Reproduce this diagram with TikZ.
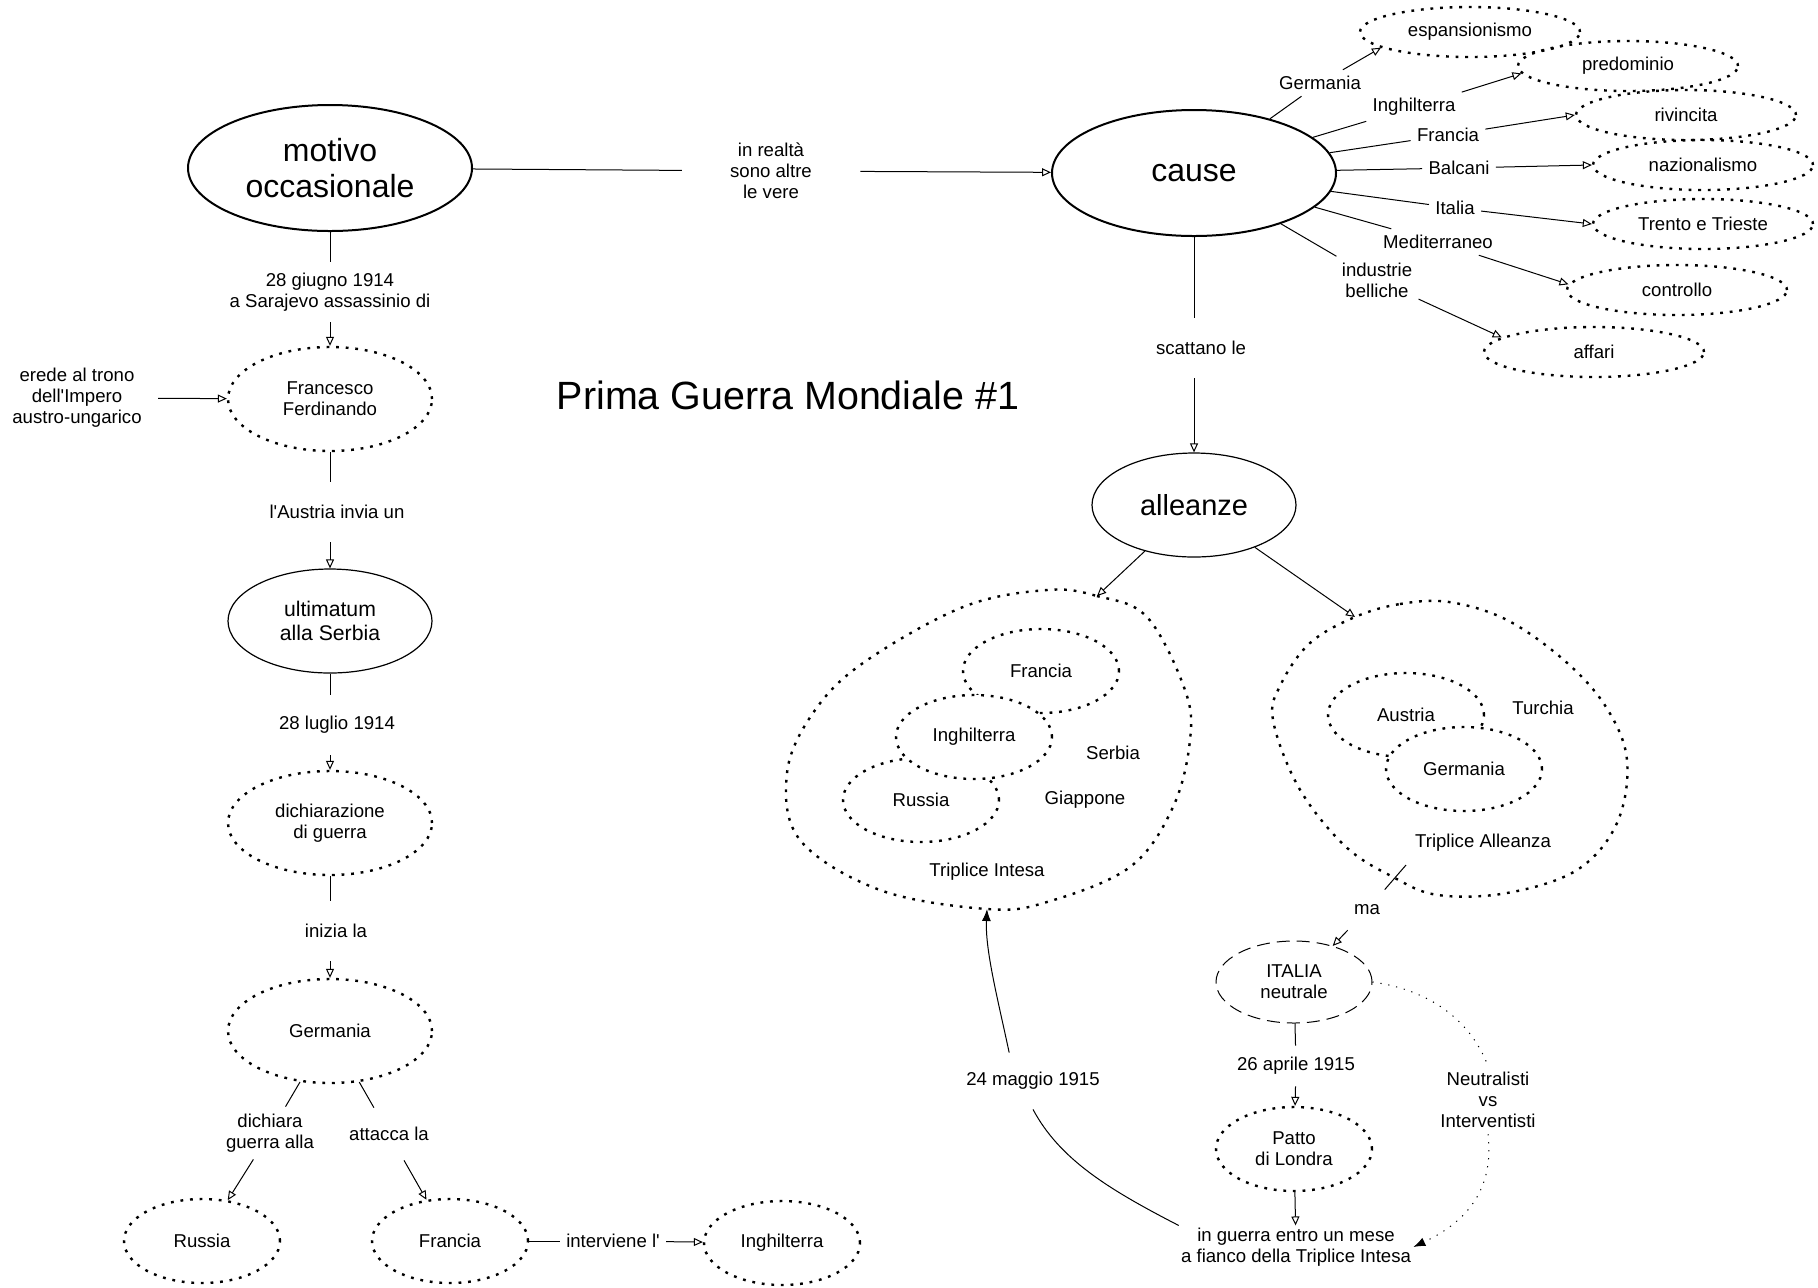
\documentclass[tikz,border=0pt]{standalone}
\usepackage{fontspec}
\setmainfont{Liberation Sans}
\usetikzlibrary{shapes.geometric,arrows.meta}

\newcommand{\txtsize}{\fontsize{9.3}{10.5}\selectfont}
\newcommand{\bigsize}{\fontsize{16}{18}\selectfont}

\tikzset{
  every node/.style={font=\txtsize},
  dotline/.style={line width=1.2pt, dash pattern=on 1.4pt off 3.4pt},
  dashline/.style={line width=0.5pt, dash pattern=on 6.5pt off 3.5pt},
  thindots/.style={line width=0.5pt, dash pattern=on 0.6pt off 3.4pt},
  linkline/.style={line width=0.5pt},
  openarrow/.style={linkline, -{Triangle[open,length=4.5pt,width=4pt]}},
  fullarrow/.style={linkline, -{Latex[length=6pt,width=4.5pt]}},
  bigidea/.style={ellipse, draw, line width=1pt, minimum width=142pt, minimum height=63pt, inner sep=0pt, align=center, font=\bigsize},
  mididea/.style={ellipse, draw, line width=0.6pt, minimum width=102pt, minimum height=52pt, inner sep=0pt, align=center},
  dotidea/.style={ellipse, draw, dotline, minimum width=102pt, minimum height=52pt, inner sep=0pt, align=center},
  smallidea/.style={dotidea, minimum width=78pt, minimum height=42pt},
  causeidea/.style={dotidea, minimum width=110pt, minimum height=25pt},
  linklabel/.style={align=center, inner sep=3pt},
  vlabel/.style={linklabel, minimum height=30pt},
}

\begin{document}
\begin{tikzpicture}[x=0.5pt,y=0.5pt,yscale=-1,xscale=1]
        \useasboundingbox (0,0) rectangle (1818,1287);

        % Text Node
        \node [font=\fontsize{19.7}{22}\selectfont] (title) at (788,395) {Prima Guerra Mondiale \#1};

        %Shape: Ellipse [motivo occasionale]
        \node [bigidea] (motivo) at (330,168) {motivo\\occasionale};
        % Text Node
        \node [vlabel] (lSara) at (330,292) {28 giugno 1914\\a Sarajevo assassinio di};
        %Shape: Ellipse [Francesco Ferdinando]
        \node [dotidea] (franc) at (330,399) {Francesco\\Ferdinando};
        % Text Node
        \node [linklabel, inner xsep=8pt] (lErede) at (77,398) {erede al trono\\dell\textquotesingle Impero\\austro-ungarico};
        % Text Node
        \node [vlabel] (lAustria) at (337,512) {l\textquotesingle Austria invia un};
        %Shape: Ellipse [ultimatum]
        \node [mididea, font=\fontsize{10.6}{12.4}\selectfont] (ultim) at (330,621) {ultimatum\\alla Serbia};
        % Text Node
        \node [vlabel] (lLuglio) at (337,725) {28 luglio 1914};
        %Shape: Ellipse [dichiarazione]
        \node [dotidea] (dichiar) at (330,823) {dichiarazione\\di guerra};
        % Text Node
        \node [vlabel] (lInizia) at (336,931) {inizia la};
        %Shape: Ellipse [Germania]
        \node [dotidea] (germL) at (330,1031) {Germania};
        % Text Node
        \node [linklabel, minimum height=26pt] (lDich) at (270,1133) {dichiara\\guerra alla};
        % Text Node
        \node [linklabel, minimum height=26pt] (lAtt) at (389,1134) {attacca la};
        %Shape: Ellipse [Russia, Francia, Inghilterra]
        \node [smallidea] (russL) at (202,1241) {Russia};
        \node [smallidea] (francL) at (450,1241) {Francia};
        \node [linklabel] (lInterv) at (613,1241) {interviene l\textquotesingle};
        \node [smallidea] (inghL) at (782,1243) {Inghilterra};

        % left chain
        \draw [linkline] (motivo) -- (lSara);
        \draw [openarrow] (lSara) -- (franc);
        \draw [openarrow] (lErede) -- (franc);
        \draw [linkline] (franc) -- (franc |- lAustria.north);
        \draw [openarrow] (ultim |- lAustria.south) -- (ultim);
        \draw [linkline] (ultim) -- (ultim |- lLuglio.north);
        \draw [openarrow] (dichiar |- lLuglio.south) -- (dichiar);
        \draw [linkline] (dichiar) -- (dichiar |- lInizia.north);
        \draw [openarrow] (germL |- lInizia.south) -- (germL);
        \draw [linkline] (germL) -- (lDich);
        \draw [openarrow] (lDich) -- (russL);
        \draw [linkline] (germL) -- (lAtt);
        \draw [openarrow] (lAtt) -- (francL);
        \draw [linkline] (francL) -- (lInterv);
        \draw [openarrow] (lInterv) -- (inghL);

        %Shape: Ellipse [cause]
        \node [bigidea] (cause) at (1194,173) {cause};
        % Text Node
        \node [linklabel, inner xsep=24pt] (lReal) at (771,171) {in realtà\\sono altre\\le vere};
        \draw [linkline] (motivo) -- (lReal);
        \draw [openarrow] (lReal) -- (cause);

        % Text Node (cause labels)
        \node [linklabel] (lGer) at (1320,83) {Germania};
        \node [linklabel] (lIng) at (1414,107) {Inghilterra};
        \node [linklabel] (lFra) at (1448,135) {Francia};
        \node [linklabel] (lBal) at (1459,168) {Balcani};
        \node [linklabel] (lIta) at (1455,208) {Italia};
        \node [linklabel] (lMed) at (1438,242) {Mediterraneo};
        \node [linklabel] (lInd) at (1377,280) {industrie\\belliche};

        %Shape: Ellipse [cause targets]
        \node [causeidea] (espan) at (1470,32) {espansionismo};
        \node [causeidea] (predom) at (1628,66) {predominio};
        \node [causeidea] (rivinc) at (1686,115) {rivincita};
        \node [causeidea] (nazion) at (1703,165) {nazionalismo};
        \node [causeidea] (trento) at (1703,224) {Trento e Trieste};
        \node [causeidea] (controllo) at (1677,290) {controllo};
        \node [causeidea] (affari) at (1594,352) {affari};

        \draw [linkline] (cause) -- (lGer);
        \draw [linkline] (cause) -- (lIng);
        \draw [linkline] (cause) -- (lFra);
        \draw [linkline] (cause) -- (lBal);
        \draw [linkline] (cause) -- (lIta);
        \draw [linkline] (cause) -- (lMed);
        \draw [linkline] (cause) -- (lInd);
        \draw [openarrow] (lGer) -- (espan.190);
        \draw [openarrow] (lIng) -- (predom.184);
        \draw [openarrow] (lFra) -- (rivinc.180);
        \draw [openarrow] (lBal) -- (nazion.180);
        \draw [openarrow] (lIta) -- (trento.180);
        \draw [openarrow] (lMed) -- (controllo.177);
        \draw [openarrow] (lInd) -- (affari.171);

        % Text Node
        \node [vlabel] (lScatt) at (1201,348) {scattano le};
        %Shape: Ellipse [alleanze]
        \node [mididea, font=\fontsize{14.5}{16}\selectfont] (alleanze) at (1194,505) {alleanze};
        \draw [linkline] (cause) -- (cause |- lScatt.north);
        \draw [openarrow] (alleanze |- lScatt.south) -- (alleanze);

        %Shape: Blob [Triplice Intesa]
        \draw [dotline] plot [smooth cycle, tension=0.6] coordinates {(1047,590) (1097,596) (1147,617) (1185,690) (1190,740) (1173,807) (1130,867) (1047,902) (987,909) (880,890) (800,840) (787,773) (813,713) (863,663) (963,607)};
        \coordinate (intesaTop) at (1097,596);
        \coordinate (intesaBot) at (987,909);
        \node [smallidea] (intFra) at (1041,671) {Francia};
        \node [smallidea] (intRus) at (921,800) {Russia};
        \node [smallidea, fill=white] (intIng) at (974,737) {Inghilterra};
        \node (lSerbia) at (1113,753) {Serbia};
        \node (lGiapp) at (1085,800) {Giappone};
        \node (lIntesa) at (987,872) {Triplice Intesa};

        %Shape: Blob [Triplice Alleanza]
        \draw [dotline] plot [smooth cycle, tension=0.6] coordinates {(1355,617) (1400,604) (1449,602) (1507,620) (1565,661) (1606,707) (1627,760) (1617,823) (1577,870) (1507,893) (1438,895) (1393,877) (1345,846) (1299,788) (1273,720) (1281,684) (1310,643)};
        \coordinate (allTop) at (1355,617);
        \coordinate (maTick) at (1406,865);
        \node [smallidea] (allAus) at (1406,715) {Austria};
        \node [smallidea, fill=white] (allGer) at (1464,769) {Germania};
        \node (lTurchia) at (1543,708) {Turchia};
        \node (lAlleanza) at (1483,843) {Triplice Alleanza};

        \draw [openarrow] (alleanze) -- (intesaTop);
        \draw [openarrow] (alleanze) -- (allTop);

        % Text Node
        \node [linklabel, minimum height=20pt] (lMa) at (1367,910) {ma};
        %Shape: Ellipse [ITALIA neutrale]
        \node [ellipse, draw, dashline, minimum width=78pt, minimum height=41pt, inner sep=0pt, align=center] (ita) at (1294,982) {ITALIA\\neutrale};
        \node [linklabel, minimum height=20pt] (lApr) at (1296,1066) {26 aprile 1915};
        \node [smallidea] (patto) at (1294,1149) {Patto\\di Londra};
        \node [linklabel, inner sep=1pt] (guerra) at (1296,1247) {in guerra entro un mese\\a fianco della Triplice Intesa};
        \node [linklabel] (lNeut) at (1488,1100) {Neutralisti\\vs\\Interventisti};
        \node [linklabel, minimum height=28pt] (l24) at (1033,1081) {24 maggio 1915};

        \draw [linkline] (maTick) -- (lMa);
        \draw [openarrow] (lMa) -- (ita.43);
        \draw [linkline] (ita) -- (lApr);
        \draw [openarrow] (lApr) -- (patto);
        \draw [openarrow] (patto) -- (guerra);
        \draw [thindots] (ita.east) .. controls (1430,990) and (1470,1020) .. (lNeut.north);
        \draw [thindots, -{Latex[length=6pt,width=4.5pt]}] (lNeut.south) .. controls (1495,1195) and (1460,1225) .. (guerra.east);
        \draw [linkline] (guerra.north west) .. controls (1110,1190) and (1060,1160) .. (l24.south);
        \draw [fullarrow] (l24.130) .. controls (998,1000) and (985,950) .. (intesaBot);

\end{tikzpicture}
\end{document}
